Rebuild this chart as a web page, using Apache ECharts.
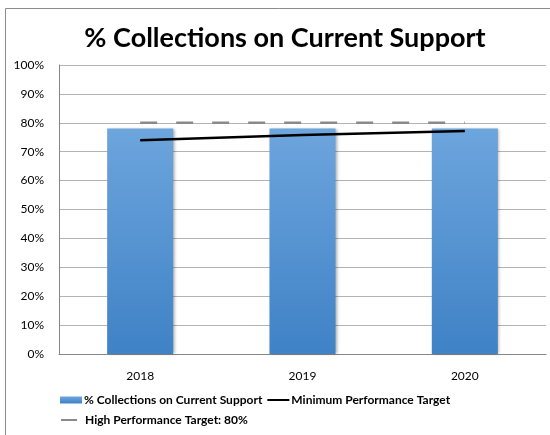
<!DOCTYPE html>
<html>
<head>
<meta charset="utf-8">
<script src="https://cdn.jsdelivr.net/npm/echarts@6/dist/echarts.min.js"></script>
<style>
  html, body { margin: 0; padding: 0; background: #fff; }
  #chart { width: 550px; height: 435px; }
</style>
</head>
<body>
<div id="chart"></div>
<script>
// data
var years = ["2018", "2019", "2020"];
var collections = [78, 78, 78];
var minTarget = [74, 75.8, 77.2];
var highTarget = [80, 80, 80];
var yTicks = [0, 10, 20, 30, 40, 50, 60, 70, 80, 90, 100];

var font = "Lato, 'Open Sans', sans-serif";
var legendText = { fontFamily: font, fontSize: 12, fontWeight: "bold", color: "#000" };

var chart = echarts.init(document.getElementById("chart"));

var option = {
  animation: false,
  backgroundColor: "#fff",
  textStyle: { fontFamily: font },
  title: {
    text: "% Collections on Current Support",
    left: 280,
    top: 20,
    textAlign: "center",
    textStyle: { fontFamily: font, fontSize: 27, fontWeight: "bold", color: "#000" }
  },
  graphic: [
    {
      type: "rect",
      shape: { x: 5.5, y: 8.5, width: 600, height: 500 },
      style: { fill: "none", stroke: "#8c8c8c", lineWidth: 1 },
      z: -1
    }
  ],
  grid: { left: 59, right: 4, top: 65, bottom: 81 },
  legend: [
    {
      left: 60,
      top: 394,
      padding: 0,
      itemGap: 4,
      itemWidth: 22,
      itemHeight: 7,
      textStyle: Object.assign({ padding: [0, 0, 0, -3] }, legendText),
      data: [
        { name: "% Collections on Current Support", icon: "rect" },
        { name: "Minimum Performance Target", itemStyle: { opacity: 0 } }
      ]
    },
    {
      left: 60,
      top: 414,
      padding: 0,
      itemWidth: 16,
      itemHeight: 7,
      textStyle: Object.assign({ padding: [0, 0, 0, 3] }, legendText),
      data: [{ name: "High Performance Target: 80%", itemStyle: { opacity: 0 }, lineStyle: { type: "solid" } }]
    }
  ],
  xAxis: {
    type: "category",
    data: years,
    axisLine: { lineStyle: { color: "#868686" } },
    axisTick: { show: false },
    axisLabel: { color: "#000", fontSize: 12, margin: 16, fontFamily: font }
  },
  yAxis: {
    type: "value",
    min: yTicks[0],
    max: yTicks[yTicks.length - 1],
    interval: 10,
    axisLine: { show: true, lineStyle: { color: "#868686" } },
    axisTick: { show: false },
    splitLine: { lineStyle: { color: "#b3b3b3" } },
    axisLabel: {
      color: "#000",
      fontSize: 12,
      margin: 15,
      fontFamily: font,
      formatter: function (v) { return v + "%"; }
    }
  },
  series: [
    {
      name: "% Collections on Current Support",
      type: "bar",
      barWidth: 66,
      data: collections,
      itemStyle: {
        color: new echarts.graphic.LinearGradient(0, 0, 0, 1, [
          { offset: 0, color: "#6da5dd" },
          { offset: 1, color: "#3f82c6" }
        ]),
        shadowColor: "rgba(0,0,0,0.35)",
        shadowBlur: 3,
        shadowOffsetX: 1.5,
        shadowOffsetY: 0
      },
      z: 2
    },
    {
      name: "Minimum Performance Target",
      type: "line",
      data: minTarget,
      symbol: "none",
      lineStyle: { color: "#000", width: 2.5 },
      itemStyle: { color: "#000" },
      z: 4
    },
    {
      name: "High Performance Target: 80%",
      type: "line",
      data: highTarget,
      symbol: "none",
      lineStyle: { color: "#8a8a8a", width: 2.5, type: [17, 19] },
      itemStyle: { color: "#8a8a8a" },
      z: 3
    }
  ]
};

chart.setOption(option);
</script>
</body>
</html>
